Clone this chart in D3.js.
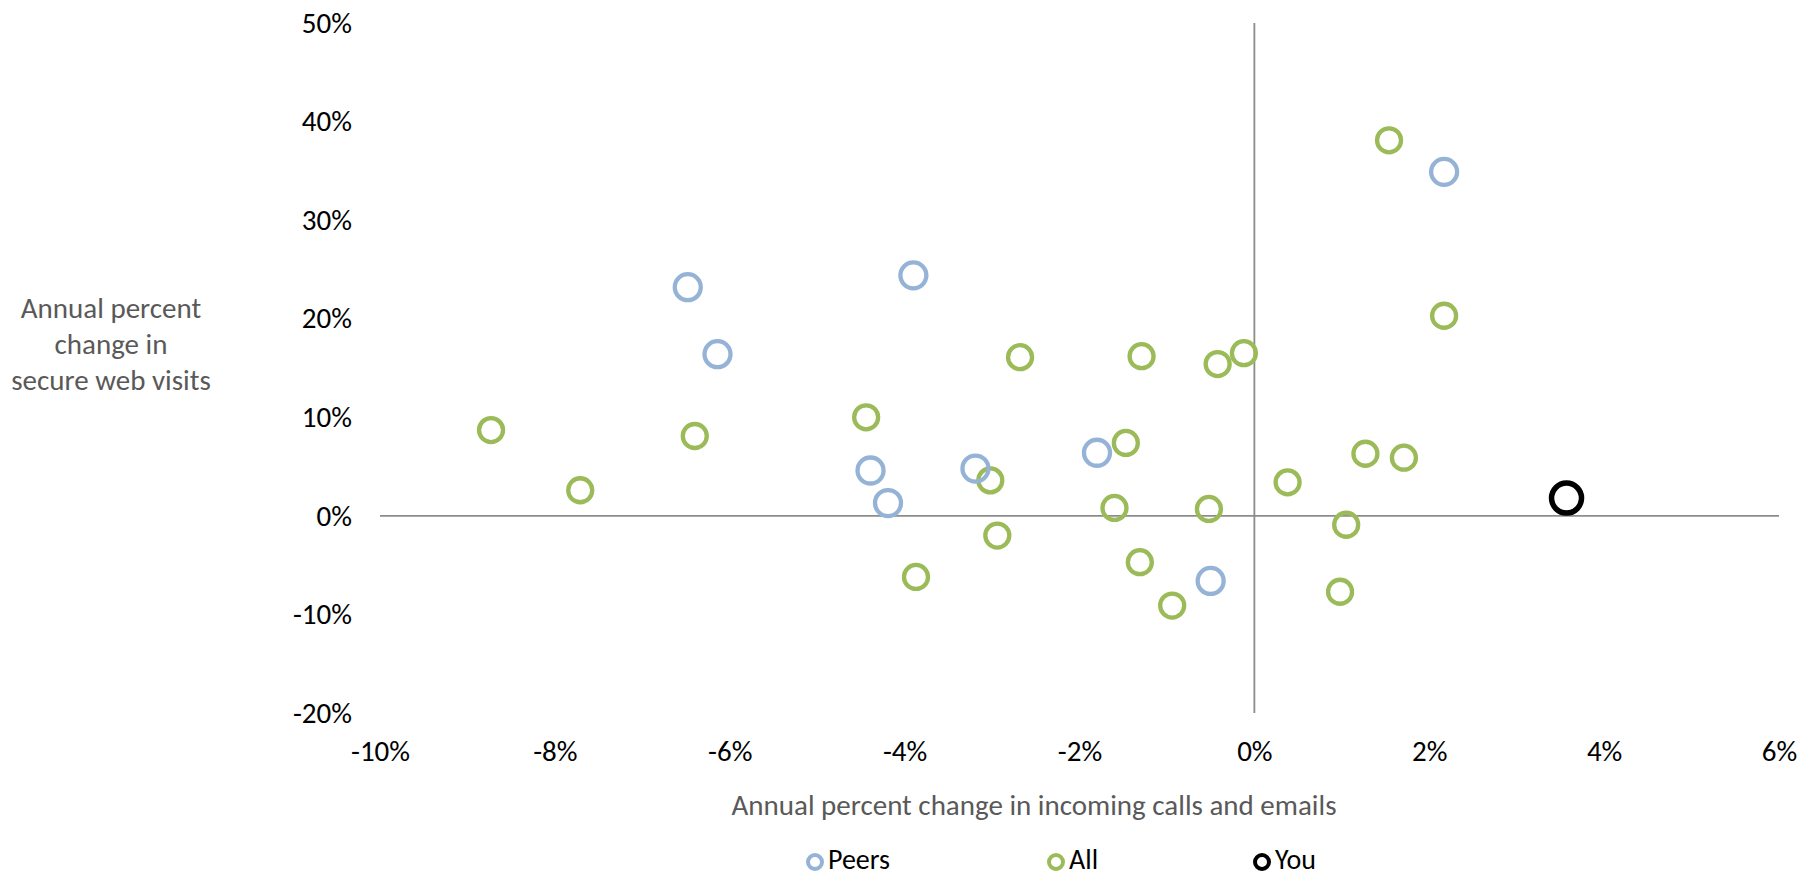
<!DOCTYPE html>
<html>
<head>
<meta charset="utf-8">
<script src="https://cdn.jsdelivr.net/npm/d3@7"></script>
<style>
  html, body { margin: 0; padding: 0; background: #fff; }
  svg text { font-family: Calibri, Carlito, Lato, "Open Sans", sans-serif; }
</style>
</head>
<body>
<svg id="chart" width="1817" height="879"></svg>
<script>
// ---- data (percent values) ----
const peersX = [-6.48, -6.14, -3.90, -4.39, -4.19, -3.19, -1.80, -0.50, 2.17];
const peersY = [23.2, 16.4, 24.4, 4.6, 1.3, 4.8, 6.4, -6.6, 34.9];
const allX = [-8.73, -7.71, -6.40, -4.44, -3.02, -2.94, -3.87, -2.68, -1.29, -1.47, -1.60, -1.31, -0.94, -0.42, -0.12, -0.52, 0.38, 1.05, 0.98, 1.27, 1.71, 1.54, 2.17];
const allY = [8.7, 2.6, 8.1, 10.0, 3.6, -2.0, -6.2, 16.1, 16.2, 7.4, 0.8, -4.7, -9.1, 15.4, 16.5, 0.7, 3.4, -0.9, -7.7, 6.3, 5.9, 38.1, 20.3];
const youX = [3.57];
const youY = [1.8];
const xTicks = [-10, -8, -6, -4, -2, 0, 2, 4, 6];
const yTicks = [-20, -10, 0, 10, 20, 30, 40, 50];
const seriesNames = ["Peers", "All", "You"];
const xTitle = "Annual percent change in incoming calls and emails";
const yTitleLines = ["Annual percent", "change in", "secure web visits"];

const svg = d3.select("#chart");
const plot = { left: 380, right: 1779, top: 23, bottom: 713 };

const x = d3.scaleLinear().domain([-10, 6]).range([plot.left, plot.right]);
const y = d3.scaleLinear().domain([-20, 50]).range([plot.bottom, plot.top]);

const fmt = d => d + "%";
const fontSize = 29;

// axis lines through zero
svg.append("line")
  .attr("x1", x(-10)).attr("x2", x(6))
  .attr("y1", y(0)).attr("y2", y(0))
  .attr("stroke", "#8c8c8c").attr("stroke-width", 1.8);
svg.append("line")
  .attr("x1", x(0)).attr("x2", x(0))
  .attr("y1", y(50)).attr("y2", y(-20))
  .attr("stroke", "#8c8c8c").attr("stroke-width", 1.8);

// Y tick labels (left, "low" position)
const yAxis = svg.append("g")
  .attr("transform", `translate(${plot.left - 28},0)`)
  .call(d3.axisLeft(y).tickValues(yTicks).tickFormat(fmt).tickSize(0).tickPadding(0));
yAxis.select(".domain").remove();
yAxis.selectAll("text").attr("font-size", fontSize).attr("fill", "#000")
  .style("font-family", "Calibri, Carlito, Lato, sans-serif");

// X tick labels (bottom)
const xAxis = svg.append("g")
  .attr("transform", `translate(0,${plot.bottom + 27})`)
  .call(d3.axisBottom(x).tickValues(xTicks).tickFormat(fmt).tickSize(0).tickPadding(0));
xAxis.select(".domain").remove();
xAxis.selectAll("text").attr("font-size", fontSize).attr("fill", "#000")
  .style("font-family", "Calibri, Carlito, Lato, sans-serif");

// axis titles
svg.append("text")
  .attr("x", 1034).attr("y", 808)
  .attr("text-anchor", "middle").attr("dominant-baseline", "middle")
  .attr("font-size", fontSize).attr("fill", "#595959")
  .text(xTitle);

svg.append("g").selectAll("text").data(yTitleLines).join("text")
  .attr("x", 111).attr("y", (d, i) => 311 + i * 36)
  .attr("text-anchor", "middle").attr("dominant-baseline", "middle")
  .attr("font-size", fontSize).attr("fill", "#595959")
  .text(d => d);

// markers
const series = [
  { name: seriesNames[1], xs: allX, ys: allY, color: "#9BBB59", r: 12, sw: 4.3 },
  { name: seriesNames[0], xs: peersX, ys: peersY, color: "#95B3D7", r: 13, sw: 4.3 },
  { name: seriesNames[2], xs: youX, ys: youY, color: "#000000", r: 15, sw: 5.5 }
];
series.forEach(s => {
  svg.append("g").selectAll("circle")
    .data(s.xs.map((v, i) => [v, s.ys[i]]))
    .join("circle")
    .attr("cx", d => x(d[0])).attr("cy", d => y(d[1]))
    .attr("r", s.r).attr("fill", "none")
    .attr("stroke", s.color).attr("stroke-width", s.sw);
});

// legend
const legendItems = [
  { name: seriesNames[0], color: "#95B3D7", mx: 815 },
  { name: seriesNames[1], color: "#9BBB59", mx: 1056 },
  { name: seriesNames[2], color: "#000000", mx: 1262 }
];
const lg = svg.append("g");
legendItems.forEach(it => {
  lg.append("circle").attr("cx", it.mx).attr("cy", 862).attr("r", 7)
    .attr("fill", "none").attr("stroke", it.color).attr("stroke-width", 4);
  lg.append("text").attr("x", it.mx + 13).attr("y", 862)
    .attr("dominant-baseline", "middle").attr("font-size", 28).attr("fill", "#000")
    .text(it.name);
});
</script>
</body>
</html>
